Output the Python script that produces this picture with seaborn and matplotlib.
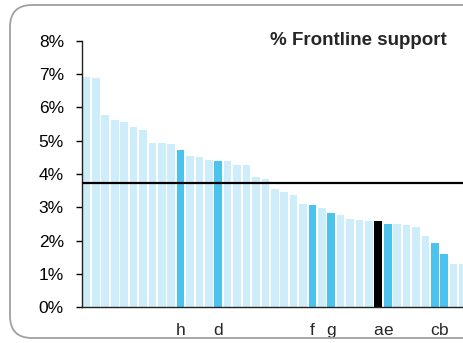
import matplotlib
matplotlib.use("Agg")
import matplotlib.pyplot as plt
import seaborn as sns
from matplotlib.patches import FancyBboxPatch
from matplotlib.transforms import IdentityTransform

# ---- data ----
values = [6.92, 6.88, 5.77, 5.62, 5.56, 5.41, 5.32, 4.94, 4.92, 4.90,
          4.73, 4.53, 4.51, 4.43, 4.39, 4.38, 4.28, 4.27, 3.91, 3.85,
          3.55, 3.47, 3.38, 3.09, 3.06, 2.99, 2.83, 2.77, 2.65, 2.62,
          2.60, 2.59, 2.51, 2.50, 2.47, 2.41, 2.13, 1.94, 1.59, 1.30,
          1.30]
labels = ["", "", "", "", "", "", "", "", "", "",
          "h", "", "", "", "d", "", "", "", "", "",
          "", "", "", "", "f", "", "g", "", "", "",
          "", "a", "e", "", "", "", "", "c", "b", "",
          ""]
groups = ["other"] * 41
for i in (10, 14, 24, 26, 32, 37, 38):
    groups[i] = "highlight"
groups[31] = "focus"
average = 3.74
yticks = [0, 1, 2, 3, 4, 5, 6, 7, 8]
ytick_labels = [f"{t}%" for t in yticks]
title = "% Frontline support"

group_colors = {"other": "#CDEDFA", "highlight": "#4CC3EC", "focus": "#000000"}

# ---- style ----
sns.set_style("white")
plt.rcParams["font.family"] = ["Liberation Sans", "DejaVu Sans"]

fig = plt.figure(figsize=(4.63, 3.43), dpi=100)
ax = fig.add_axes([82 / 463, (343 - 307.3) / 343, 1 - 82 / 463, (307.3 - 40.6) / 343])

positions = list(range(len(values)))
palette = [group_colors[g] for g in groups]
sns.barplot(x=positions, y=values, hue=positions, palette=palette, legend=False,
            dodge=False, width=0.81, saturation=1, ax=ax, linewidth=0)

ax.axhline(average, color="black", lw=1.6, zorder=5)

ax.set_xlim(-0.476, 39.8)
ax.set_ylim(0, 8)
ax.set_yticks(yticks)
ax.set_yticklabels(ytick_labels, fontsize=12.5)
ax.set_xticks(positions)
ax.set_xticklabels(labels, fontsize=12.5)
ax.tick_params(axis="x", length=0, pad=11)
ax.tick_params(axis="y", length=4, width=1, direction="out", pad=9, left=True, colors="black")
ax.set_xlabel("")
ax.set_ylabel("")
for s in ("top", "right"):
    ax.spines[s].set_visible(False)
for s in ("left", "bottom"):
    ax.spines[s].set_color("#222222")
    ax.spines[s].set_linewidth(1.0)
ax.grid(False)

fig.text(447 / 463, (343 - 45) / 343, title, ha="right", va="baseline",
         fontsize=13.5, fontweight="bold")

frame = FancyBboxPatch((10, 5), 600, 333, boxstyle="round,pad=0,rounding_size=22",
                       transform=IdentityTransform(), facecolor="none",
                       edgecolor="#a0a0a0", lw=1.3, clip_on=False)
fig.add_artist(frame)

fig.savefig("out.png", dpi=100)
